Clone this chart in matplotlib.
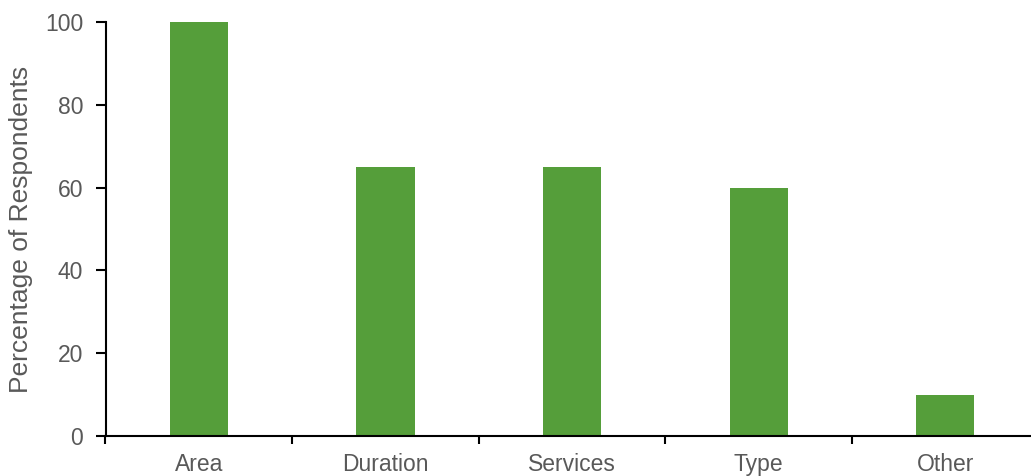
import matplotlib
matplotlib.use("Agg")
import matplotlib.pyplot as plt

categories = ["Area", "Duration", "Services", "Type", "Other"]
values = [100, 65, 65, 60, 10]

plt.rcParams['font.family'] = ['Liberation Sans', 'DejaVu Sans']

W, H = 1031, 476
fig = plt.figure(figsize=(W / 100, H / 100), dpi=100)
left, right = 105.5, 1038.7
top, bottom = 22, 436
ax = fig.add_axes([left / W, (H - bottom) / H, (right - left) / W, (bottom - top) / H])

x = list(range(len(categories)))
ax.bar(x, values, width=0.312, color="#559E3A", zorder=2)

ax.set_xlim(-0.5, len(categories) - 0.5)
ax.set_ylim(0, 100)
ax.set_yticks([0, 20, 40, 60, 80, 100])
ax.set_xticks([i - 0.5 for i in range(len(categories))])
ax.set_xticklabels([])
ax.set_xticks(x, minor=True)
ax.set_xticklabels(categories, minor=True)

text_color = "#595959"
ax.tick_params(axis='y', direction='out', length=7, width=1.5, color='black',
               labelsize=16.5, labelcolor=text_color, pad=9)
ax.tick_params(axis='x', which='major', direction='out', length=6, width=1.5, color='black')
ax.tick_params(axis='x', which='minor', length=0, labelsize=16.5, labelcolor=text_color, pad=12.5)

for s in ['top', 'right']:
    ax.spines[s].set_visible(False)
for s in ['left', 'bottom']:
    ax.spines[s].set_linewidth(1.5)
    ax.spines[s].set_color('black')
ax.spines['left'].set_zorder(3)
ax.spines['bottom'].set_zorder(3)

ax.set_ylabel("Percentage of Respondents", fontsize=19, color=text_color)
ax.yaxis.set_label_coords(-72 / (right - left), 0.5)

fig.savefig("out.png", dpi=100)
